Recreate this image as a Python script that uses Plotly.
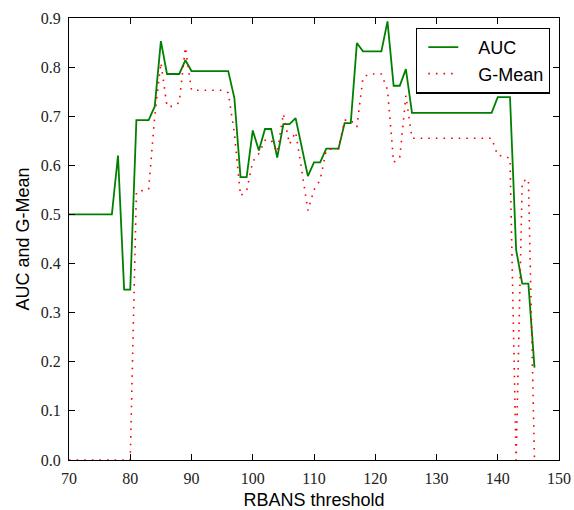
import plotly.graph_objects as go

thresholds = list(range(70, 147))

auc = [0.5, 0.5, 0.5, 0.5, 0.5, 0.5, 0.5, 0.5,        # 70-77
       0.62, 0.347, 0.347,                              # 78-80
       0.692, 0.692, 0.692, 0.72, 0.853,                # 81-85
       0.786, 0.786, 0.786, 0.814,                      # 86-89
       0.792, 0.792, 0.792, 0.792, 0.792, 0.792, 0.792, # 90-96
       0.737, 0.576, 0.576,                             # 97-99
       0.671, 0.630, 0.674, 0.674, 0.616,               # 100-104
       0.684, 0.684, 0.696, 0.637, 0.578,               # 105-109
       0.606, 0.606, 0.634, 0.634, 0.634,               # 110-114
       0.686, 0.686, 0.849,                             # 115-117
       0.832, 0.832, 0.832, 0.832,                      # 118-121
       0.893, 0.762, 0.762, 0.796,                      # 122-125
       0.707, 0.707, 0.707, 0.707, 0.707, 0.707, 0.707,
       0.707, 0.707, 0.707, 0.707, 0.707, 0.707, 0.707, # 126-139
       0.739, 0.739, 0.739,                             # 140-142
       0.428, 0.359, 0.359, 0.188]                      # 143-146

gmean = [0.0, 0.0, 0.0, 0.0, 0.0, 0.0, 0.0, 0.0, 0.0, 0.0, 0.0,  # 70-80
         0.546, 0.549, 0.551, 0.70, 0.809,              # 81-85
         0.72, 0.72, 0.728, 0.84,                       # 86-89
         0.753, 0.753, 0.753, 0.753, 0.753, 0.753,      # 90-95
         0.748, 0.665, 0.538, 0.548,                    # 96-99
         0.608, 0.624, 0.651, 0.652, 0.627,             # 100-104
         0.705, 0.643, 0.668, 0.59, 0.508,              # 105-109
         0.55, 0.57, 0.631, 0.634, 0.634,               # 110-114
         0.692, 0.692, 0.678,                           # 115-117
         0.779, 0.786, 0.786, 0.786,                    # 118-121
         0.754, 0.606, 0.615, 0.742,                    # 122-125
         0.655, 0.655, 0.655, 0.655, 0.655, 0.655, 0.655,
         0.655, 0.655, 0.655, 0.655, 0.655, 0.655, 0.655,  # 126-139
         0.62, 0.619, 0.614,                            # 140-142
         0.0, 0.567, 0.572, 0.0]                        # 143-146

x_ticks = [70, 80, 90, 100, 110, 120, 130, 140, 150]
y_ticks = [0.0, 0.1, 0.2, 0.3, 0.4, 0.5, 0.6, 0.7, 0.8, 0.9]

NB = "\u00a0"

fig = go.Figure()
fig.add_trace(go.Scatter(
    x=thresholds, y=auc, mode="lines", name=NB * 3 + "AUC",
    line=dict(color="#008000", width=1.8)))
fig.add_trace(go.Scatter(
    x=thresholds, y=gmean, mode="lines", name=NB * 3 + "G-Mean",
    line=dict(color="#ff0000", width=1.6, dash="1.6px,6px")))

axis_common = dict(
    showline=True, linecolor="black", linewidth=1.3, mirror="ticks",
    ticks="inside", ticklen=6, tickwidth=1, tickcolor="black",
    showgrid=False, zeroline=False, automargin=False,
    tickfont=dict(family="Liberation Serif", size=16, color="#222"),
)

fig.update_layout(
    width=574, height=510,
    margin=dict(l=69, r=15, t=18, b=50),
    paper_bgcolor="white", plot_bgcolor="white",
    xaxis=dict(range=[70, 150], tickvals=x_ticks,
               ticktext=[str(v) for v in x_ticks],
               ticklabelstandoff=4,
               title=dict(text="RBANS threshold",
                          font=dict(family="Liberation Sans", size=18, color="black"),
                          standoff=8),
               **axis_common),
    yaxis=dict(range=[0, 0.9], tickvals=y_ticks,
               ticktext=[f"{v:.1f}" for v in y_ticks],
               ticklabelstandoff=4,
               title=dict(text="AUC and G-Mean",
                          font=dict(family="Liberation Sans", size=18, color="black"),
                          standoff=6),
               **axis_common),
    legend=dict(x=0.9816, y=0.978, xanchor="right", yanchor="top",
                bgcolor="white", bordercolor="black", borderwidth=1.3,
                font=dict(family="Liberation Sans", size=18, color="black"),
                indentation=6),
    showlegend=True,
)

fig.write_html("out.html")
